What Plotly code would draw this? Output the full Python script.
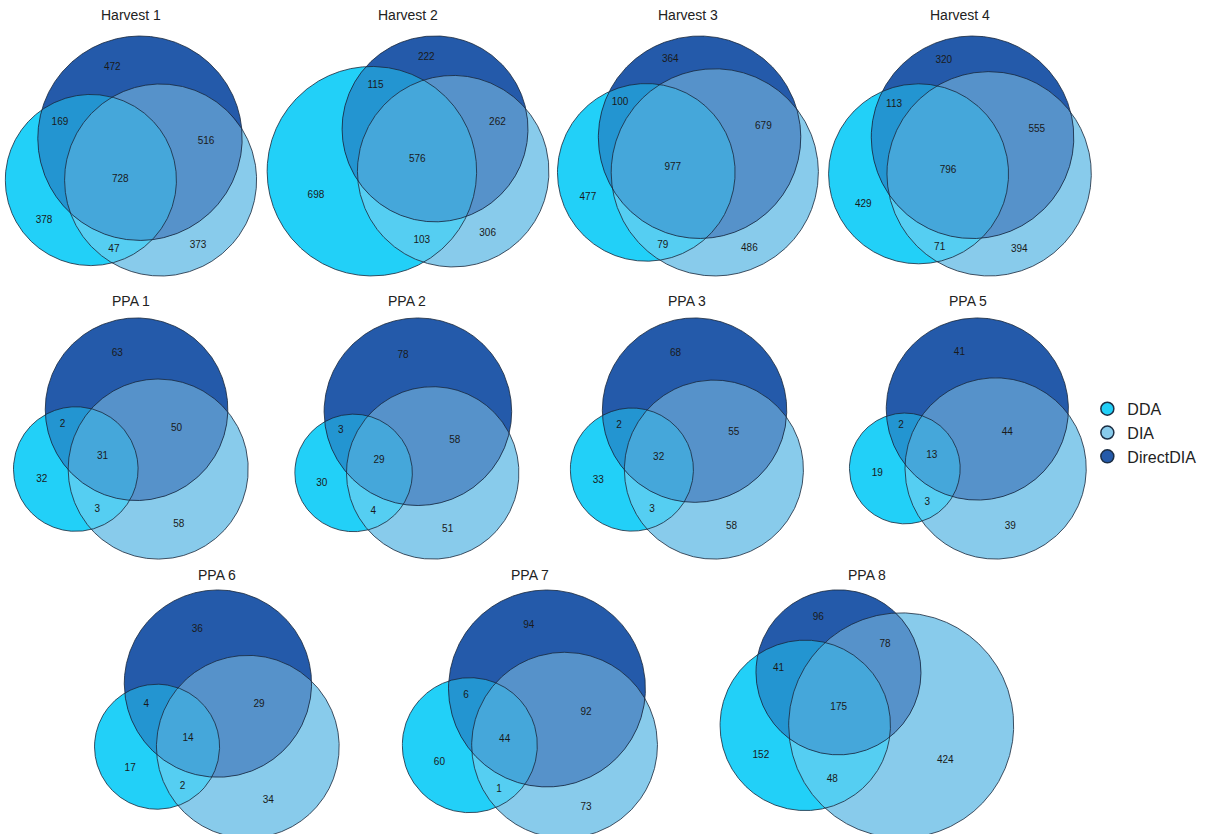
import math
import numpy as np
import plotly.graph_objects as go

# Set names and colours
set_names = ['DDA', 'DIA', 'DirectDIA']
set_colors = ['#22d0f8', '#88cbeb', '#245aaa']

panel_titles = ['Harvest 1', 'Harvest 2', 'Harvest 3', 'Harvest 4',
                'PPA 1', 'PPA 2', 'PPA 3', 'PPA 5',
                'PPA 6', 'PPA 7', 'PPA 8']

# disjoint region counts per panel
dda_only = [378, 698, 477, 429, 32, 30, 33, 19, 17, 60, 152]
dia_only = [373, 306, 486, 394, 58, 51, 58, 39, 34, 73, 424]
direct_only = [472, 222, 364, 320, 63, 78, 68, 41, 36, 94, 96]
dda_dia = [47, 103, 79, 71, 3, 4, 3, 3, 2, 1, 48]
dda_direct = [169, 115, 100, 113, 2, 3, 2, 2, 4, 6, 41]
dia_direct = [516, 262, 679, 555, 50, 58, 55, 44, 29, 92, 78]
all_three = [728, 576, 977, 796, 31, 29, 32, 13, 14, 44, 175]

# page layout (pixels)
W, H = 1219, 834
panel_row = [0, 0, 0, 0, 1, 1, 1, 1, 2, 2, 2]
panel_cx = [131, 408, 688, 960, 131, 407, 687, 968, 217, 530, 867]
row_top = [35, 317, 589]
row_height = [242, 243, 250]
title_y = [15, 301, 575]


def hex_rgb(h):
    h = h.lstrip('#')
    return np.array([int(h[i:i + 2], 16) for i in (0, 2, 4)], dtype=float)


def mix(idx):
    c = np.mean([hex_rgb(set_colors[i]) for i in idx], axis=0)
    return 'rgb(%d,%d,%d)' % tuple(np.round(c))


def lens_area(d, r1, r2):
    if d >= r1 + r2:
        return 0.0
    if d <= abs(r1 - r2):
        return math.pi * min(r1, r2) ** 2
    a1 = r1 ** 2 * math.acos((d * d + r1 * r1 - r2 * r2) / (2 * d * r1))
    a2 = r2 ** 2 * math.acos((d * d + r2 * r2 - r1 * r1) / (2 * d * r2))
    a3 = 0.5 * math.sqrt((-d + r1 + r2) * (d + r1 - r2) * (d - r1 + r2) * (d + r1 + r2))
    return a1 + a2 - a3


def solve_dist(r1, r2, target):
    lo, hi = abs(r1 - r2) + 1e-9, r1 + r2
    for _ in range(100):
        mid = (lo + hi) / 2
        if lens_area(mid, r1, r2) > target:
            lo = mid
        else:
            hi = mid
    return (lo + hi) / 2


def layout_circles(k):
    tot = [dda_only[k] + dda_dia[k] + dda_direct[k] + all_three[k],
           dia_only[k] + dda_dia[k] + dia_direct[k] + all_three[k],
           direct_only[k] + dda_direct[k] + dia_direct[k] + all_three[k]]
    r = [math.sqrt(t / math.pi) for t in tot]
    d_ab = solve_dist(r[0], r[1], dda_dia[k] + all_three[k])
    d_ac = solve_dist(r[0], r[2], dda_direct[k] + all_three[k])
    d_bc = solve_dist(r[1], r[2], dia_direct[k] + all_three[k])
    cx = (d_ac ** 2 - d_bc ** 2 + d_ab ** 2) / (2 * d_ab)
    cy = math.sqrt(max(d_ac ** 2 - cx ** 2, 0))
    centers = [(0.0, 0.0), (d_ab, 0.0), (cx, cy)]
    return centers, r


def region_poly(idx, centers, r, n=1800):
    xs, ys = [], []
    t = np.linspace(0, 2 * np.pi, n, endpoint=False)
    for i in idx:
        px = centers[i][0] + r[i] * np.cos(t)
        py = centers[i][1] + r[i] * np.sin(t)
        keep = np.ones(n, dtype=bool)
        for j in idx:
            if j != i:
                keep &= np.hypot(px - centers[j][0], py - centers[j][1]) <= r[j] * 1.0005
        xs.append(px[keep])
        ys.append(py[keep])
    xs = np.concatenate(xs)
    ys = np.concatenate(ys)
    mx, my = xs.mean(), ys.mean()
    order = np.argsort(np.arctan2(ys - my, xs - mx))
    xs, ys = xs[order], ys[order]
    return np.append(xs, xs[0]), np.append(ys, ys[0])


def label_points(centers, r, bbox):
    x0, x1, y0, y1 = bbox
    gx, gy = np.meshgrid(np.linspace(x0, x1, 320), np.linspace(y0, y1, 320))
    dist = [np.hypot(gx - c[0], gy - c[1]) - ri for c, ri in zip(centers, r)]
    inside = [d < 0 for d in dist]
    clear = np.min(np.abs(np.array(dist)), axis=0)
    pts = {}
    for code in [(0,), (1,), (2,), (0, 1), (0, 2), (1, 2), (0, 1, 2)]:
        m = np.ones(gx.shape, dtype=bool)
        for i in range(3):
            m &= inside[i] if i in code else ~inside[i]
        if not m.any():
            continue
        c = np.where(m, clear, -1)
        j = np.unravel_index(np.argmax(c), c.shape)
        pts[code] = (gx[j], gy[j])
    return pts


fig = go.Figure()
annotations = []
layout_axes = {}

for k, title in enumerate(panel_titles):
    centers, r = layout_circles(k)
    pad = 1.01
    xmin = min(c[0] - ri * pad for c, ri in zip(centers, r))
    xmax = max(c[0] + ri * pad for c, ri in zip(centers, r))
    ymin = min(c[1] - ri * pad for c, ri in zip(centers, r))
    ymax = max(c[1] + ri * pad for c, ri in zip(centers, r))

    ax = '' if k == 0 else str(k + 1)
    xref, yref = 'x' + ax, 'y' + ax
    row = panel_row[k]
    top = row_top[row]
    bottom = min(top + row_height[row], H)
    # bottom row runs off the page: trim the y range so the scale still fits row_height
    y_lo = ymax - (ymax - ymin) * (bottom - top) / row_height[row]
    half = min(180, panel_cx[k], W - panel_cx[k])
    layout_axes['xaxis' + ax] = dict(
        domain=[(panel_cx[k] - half) / W, (panel_cx[k] + half) / W],
        range=[xmin, xmax], visible=False, anchor=yref, constrain='domain')
    layout_axes['yaxis' + ax] = dict(
        domain=[1 - bottom / H, 1 - top / H],
        range=[y_lo, ymax], visible=False, anchor=xref,
        scaleanchor=xref, scaleratio=1, constrain='domain')

    # single-set fills
    for i in range(3):
        px, py = region_poly([i], centers, r)
        fig.add_trace(go.Scatter(x=px, y=py, xaxis=xref, yaxis=yref, mode='lines',
                                 fill='toself', fillcolor=set_colors[i],
                                 line=dict(width=0), hoverinfo='skip', showlegend=False))
    # overlaps painted on top with mixed colours
    for idx in [(0, 1), (0, 2), (1, 2), (0, 1, 2)]:
        px, py = region_poly(idx, centers, r)
        fig.add_trace(go.Scatter(x=px, y=py, xaxis=xref, yaxis=yref, mode='lines',
                                 fill='toself', fillcolor=mix(idx),
                                 line=dict(width=0), hoverinfo='skip', showlegend=False))
    # outlines
    for i in range(3):
        px, py = region_poly([i], centers, r)
        fig.add_trace(go.Scatter(x=px, y=py, xaxis=xref, yaxis=yref, mode='lines',
                                 line=dict(width=1, color='rgba(25,40,60,0.8)'),
                                 hoverinfo='skip', showlegend=False))

    counts = {(0,): dda_only[k], (1,): dia_only[k], (2,): direct_only[k],
              (0, 1): dda_dia[k], (0, 2): dda_direct[k], (1, 2): dia_direct[k],
              (0, 1, 2): all_three[k]}
    pts = label_points(centers, r, (xmin, xmax, ymin, ymax))
    keys = [c for c in counts if c in pts]
    fig.add_trace(go.Scatter(
        x=[pts[c][0] for c in keys], y=[pts[c][1] for c in keys],
        text=[str(counts[c]) for c in keys], mode='text', xaxis=xref, yaxis=yref,
        textfont=dict(size=10, color='#1a1a1a', family='Arial, Liberation Sans'),
        hoverinfo='skip', showlegend=False))

    annotations.append(dict(text=title, xref=xref, x=(xmin + xmax) / 2,
                            yref='paper', y=1 - title_y[row] / H, showarrow=False,
                            xanchor='center', yanchor='middle',
                            font=dict(size=14, color='#222222', family='Arial, Liberation Sans')))

# legend entries
for name, col in zip(set_names, set_colors):
    fig.add_trace(go.Scatter(x=[None], y=[None], mode='markers', name=name,
                             marker=dict(size=13, color=col,
                                         line=dict(width=1.5, color='#1c2e44'))))

fig.update_layout(
    width=W, height=H,
    margin=dict(l=0, r=0, t=0, b=0),
    paper_bgcolor='white', plot_bgcolor='white',
    showlegend=True,
    legend=dict(x=0.892, y=0.481, xanchor='left', yanchor='middle',
                font=dict(size=16, color='#222222', family='Arial, Liberation Sans'),
                bgcolor='rgba(0,0,0,0)', tracegroupgap=0),
    annotations=annotations,
    **layout_axes
)

# drop the default page margin so the figure sits at the window origin
fig.write_html("out.html", config={'displayModeBar': False},
               post_script="document.body.style.margin='0';")
